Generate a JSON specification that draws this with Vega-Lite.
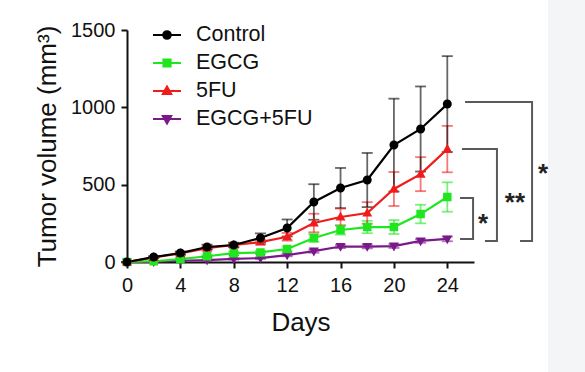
{
  "$schema": "https://vega.github.io/schema/vega-lite/v6.json",
  "width": 347,
  "height": 232,
  "autosize": {"type": "none"},
  "padding": {"left": 127, "top": 30, "right": 111, "bottom": 110},
  "background": "white",
  "config": {
    "view": {"stroke": null},
    "font": "Liberation Sans",
    "axis": {
      "domainColor": "#111111", "domainWidth": 2,
      "tickColor": "#111111", "tickWidth": 2, "tickSize": 6,
      "labelFont": "Liberation Sans", "labelFontSize": 20, "labelColor": "#111111", "labelPadding": 4,
      "titleFont": "Liberation Sans", "titleFontSize": 26, "titleFontWeight": "normal", "titleColor": "#111111",
      "grid": false
    },
    "legend": {
      "orient": "none", "legendX": 29, "legendY": -6, "title": null, "padding": 0,
      "labelFont": "Liberation Sans", "labelFontSize": 21.5, "labelColor": "#111111", "labelOffset": 18, "labelLimit": 300,
      "symbolSize": 400, "rowPadding": 6, "symbolStrokeWidth": 2, "symbolOpacity": 1
    }
  },
  "datasets": {
    "growth": [
      {"day": 0, "group": "EGCG+5FU", "vol": 0, "sd": 0},
      {"day": 2, "group": "EGCG+5FU", "vol": 2, "sd": 2},
      {"day": 4, "group": "EGCG+5FU", "vol": 8, "sd": 3},
      {"day": 6, "group": "EGCG+5FU", "vol": 12, "sd": 4},
      {"day": 8, "group": "EGCG+5FU", "vol": 20, "sd": 5},
      {"day": 10, "group": "EGCG+5FU", "vol": 25, "sd": 5},
      {"day": 12, "group": "EGCG+5FU", "vol": 45, "sd": 8},
      {"day": 14, "group": "EGCG+5FU", "vol": 70, "sd": 10},
      {"day": 16, "group": "EGCG+5FU", "vol": 100, "sd": 10},
      {"day": 18, "group": "EGCG+5FU", "vol": 100, "sd": 12},
      {"day": 20, "group": "EGCG+5FU", "vol": 103, "sd": 12},
      {"day": 22, "group": "EGCG+5FU", "vol": 136, "sd": 12},
      {"day": 24, "group": "EGCG+5FU", "vol": 149, "sd": 15},
      {"day": 0, "group": "EGCG", "vol": 0, "sd": 0},
      {"day": 2, "group": "EGCG", "vol": 5, "sd": 3},
      {"day": 4, "group": "EGCG", "vol": 18, "sd": 5},
      {"day": 6, "group": "EGCG", "vol": 37, "sd": 8},
      {"day": 8, "group": "EGCG", "vol": 57, "sd": 10},
      {"day": 10, "group": "EGCG", "vol": 62, "sd": 10},
      {"day": 12, "group": "EGCG", "vol": 84, "sd": 15},
      {"day": 14, "group": "EGCG", "vol": 155, "sd": 25},
      {"day": 16, "group": "EGCG", "vol": 207, "sd": 30},
      {"day": 18, "group": "EGCG", "vol": 226, "sd": 40},
      {"day": 20, "group": "EGCG", "vol": 226, "sd": 45},
      {"day": 22, "group": "EGCG", "vol": 310, "sd": 60},
      {"day": 24, "group": "EGCG", "vol": 420, "sd": 95},
      {"day": 0, "group": "5FU", "vol": 0, "sd": 0},
      {"day": 2, "group": "5FU", "vol": 30, "sd": 5},
      {"day": 4, "group": "5FU", "vol": 55, "sd": 8},
      {"day": 6, "group": "5FU", "vol": 90, "sd": 10},
      {"day": 8, "group": "5FU", "vol": 110, "sd": 12},
      {"day": 10, "group": "5FU", "vol": 129, "sd": 15},
      {"day": 12, "group": "5FU", "vol": 163, "sd": 25},
      {"day": 14, "group": "5FU", "vol": 252, "sd": 60},
      {"day": 16, "group": "5FU", "vol": 291, "sd": 55},
      {"day": 18, "group": "5FU", "vol": 317, "sd": 70},
      {"day": 20, "group": "5FU", "vol": 472, "sd": 110},
      {"day": 22, "group": "5FU", "vol": 568, "sd": 110},
      {"day": 24, "group": "5FU", "vol": 730, "sd": 150},
      {"day": 0, "group": "Control", "vol": 0, "sd": 0},
      {"day": 2, "group": "Control", "vol": 32, "sd": 5},
      {"day": 4, "group": "Control", "vol": 58, "sd": 10},
      {"day": 6, "group": "Control", "vol": 97, "sd": 15},
      {"day": 8, "group": "Control", "vol": 110, "sd": 15},
      {"day": 10, "group": "Control", "vol": 155, "sd": 30},
      {"day": 12, "group": "Control", "vol": 220, "sd": 55},
      {"day": 14, "group": "Control", "vol": 388, "sd": 115},
      {"day": 16, "group": "Control", "vol": 478, "sd": 130},
      {"day": 18, "group": "Control", "vol": 530, "sd": 175},
      {"day": 20, "group": "Control", "vol": 756, "sd": 300},
      {"day": 22, "group": "Control", "vol": 860, "sd": 275},
      {"day": 24, "group": "Control", "vol": 1021, "sd": 310}
    ],
    "brackets": [
      {"b": "b1", "o": 1, "x": 25.33, "y": 1034},
      {"b": "b1", "o": 2, "x": 30.35, "y": 1034},
      {"b": "b1", "o": 3, "x": 30.35, "y": 136},
      {"b": "b1", "o": 4, "x": 29.45, "y": 136},
      {"b": "b2", "o": 1, "x": 25.1, "y": 730},
      {"b": "b2", "o": 2, "x": 27.72, "y": 730},
      {"b": "b2", "o": 3, "x": 27.72, "y": 136},
      {"b": "b2", "o": 4, "x": 26.82, "y": 136},
      {"b": "b3", "o": 1, "x": 24.95, "y": 414},
      {"b": "b3", "o": 2, "x": 25.93, "y": 414},
      {"b": "b3", "o": 3, "x": 25.93, "y": 149},
      {"b": "b3", "o": 4, "x": 24.95, "y": 149}
    ],
    "stars": [
      {"x": 31.17, "y": 608, "t": "*"},
      {"x": 29.07, "y": 420, "t": "**"},
      {"x": 26.67, "y": 284, "t": "*"}
    ],
    "panel": [
      {"x0": 31.55, "x1": 34.6, "y0": 1720, "y1": -740}
    ]
  },
  "layer": [
    {
      "data": {"name": "panel"},
      "mark": {"type": "rect", "clip": false, "color": "#f4f5f7"},
      "encoding": {
        "x": {"field": "x0", "type": "quantitative", "scale": {"domain": [0, 26], "nice": false}, "title": "Days"},
        "x2": {"field": "x1"},
        "y": {"field": "y0", "type": "quantitative", "scale": {"domain": [0, 1500], "nice": false}, "title": "Tumor volume (mm³)"},
        "y2": {"field": "y1"}
      }
    },
    {
      "data": {"name": "growth"},
      "mark": {"type": "errorbar", "clip": false, "thickness": 1.8, "rule": {"opacity": 0.6, "strokeWidth": 1.8}, "ticks": {"opacity": 0.6, "size": 11, "thickness": 1.8}},
      "encoding": {
        "x": {"field": "day", "type": "quantitative", "scale": {"domain": [0, 26], "nice": false}, "title": "Days"},
        "y": {"field": "vol", "type": "quantitative", "scale": {"domain": [0, 1500], "nice": false}, "title": "Tumor volume (mm³)"},
        "yError": {"field": "sd"},
        "color": {"field": "group", "type": "nominal", "scale": {"domain": ["Control", "EGCG", "5FU", "EGCG+5FU"], "range": ["#000000", "#1fe61f", "#f01c1c", "#7a1a8a"]}}
      }
    },
    {
      "data": {"name": "growth"},
      "mark": {"type": "line", "clip": false, "strokeWidth": 2.2},
      "encoding": {
        "x": {"field": "day", "type": "quantitative", "scale": {"domain": [0, 26], "nice": false}, "title": "Days"},
        "y": {"field": "vol", "type": "quantitative", "scale": {"domain": [0, 1500], "nice": false}, "title": "Tumor volume (mm³)"},
        "color": {"field": "group", "type": "nominal", "scale": {"domain": ["Control", "EGCG", "5FU", "EGCG+5FU"], "range": ["#000000", "#1fe61f", "#f01c1c", "#7a1a8a"]}}
      }
    },
    {
      "data": {"name": "growth"},
      "mark": {"type": "point", "clip": false, "filled": true, "opacity": 1, "size": 560},
      "encoding": {
        "x": {"field": "day", "type": "quantitative", "scale": {"domain": [0, 26], "nice": false}, "title": "Days",
              "axis": {"values": [0, 4, 8, 12, 16, 20, 24], "format": "d", "labelFlush": false, "labelPadding": 7, "titlePadding": 14}},
        "y": {"field": "vol", "type": "quantitative", "scale": {"domain": [0, 1500], "nice": false}, "title": "Tumor volume (mm³)",
              "axis": {"values": [0, 500, 1000, 1500], "format": "d", "labelPadding": 6, "titlePadding": 10}},
        "color": {"field": "group", "type": "nominal", "scale": {"domain": ["Control", "EGCG", "5FU", "EGCG+5FU"], "range": ["#000000", "#1fe61f", "#f01c1c", "#7a1a8a"]}},
        "shape": {"field": "group", "type": "nominal",
                  "scale": {"domain": ["Control", "EGCG", "5FU", "EGCG+5FU"],
                            "range": ["M-1.4,0H1.4M0.38,0C0.38,0.21,0.21,0.38,0,0.38C-0.21,0.38,-0.38,0.21,-0.38,0C-0.38,-0.21,-0.21,-0.38,0,-0.38C0.21,-0.38,0.38,-0.21,0.38,0Z",
                                      "M-1.4,0H1.4M-0.36,-0.36H0.36V0.36H-0.36Z",
                                      "M-1.4,0H1.4M0,-0.45L0.42,0.3H-0.42Z",
                                      "M-1.4,0H1.4M0,0.45L0.42,-0.3H-0.42Z"]}}
      }
    },
    {
      "data": {"values": []},
      "mark": {"type": "point", "clip": false, "filled": true, "opacity": 1},
      "encoding": {
        "x": {"field": "day", "type": "quantitative", "scale": {"domain": [0, 26], "nice": false}, "title": "Days"},
        "y": {"field": "vol", "type": "quantitative", "scale": {"domain": [0, 1500], "nice": false}, "title": "Tumor volume (mm³)"},
        "color": {"field": "group", "type": "nominal", "scale": {"domain": ["Control", "EGCG", "5FU", "EGCG+5FU"], "range": ["#000000", "#1fe61f", "#f01c1c", "#7a1a8a"]}},
        "stroke": {"field": "group", "type": "nominal", "scale": {"domain": ["Control", "EGCG", "5FU", "EGCG+5FU"], "range": ["#000000", "#1fe61f", "#f01c1c", "#7a1a8a"]}},
        "shape": {"field": "group", "type": "nominal"}
      }
    },
    {
      "data": {"name": "brackets"},
      "mark": {"type": "line", "clip": false, "color": "#5a5a5a", "strokeWidth": 2},
      "encoding": {
        "x": {"field": "x", "type": "quantitative", "scale": {"domain": [0, 26], "nice": false}, "title": "Days"},
        "y": {"field": "y", "type": "quantitative", "scale": {"domain": [0, 1500], "nice": false}, "title": "Tumor volume (mm³)"},
        "detail": {"field": "b"},
        "order": {"field": "o"}
      }
    },
    {
      "data": {"name": "stars"},
      "mark": {"type": "text", "clip": false, "font": "Liberation Sans", "fontSize": 26, "fontWeight": "bold", "color": "#222222", "align": "center", "baseline": "middle", "dy": 6},
      "encoding": {
        "x": {"field": "x", "type": "quantitative", "scale": {"domain": [0, 26], "nice": false}, "title": "Days"},
        "y": {"field": "y", "type": "quantitative", "scale": {"domain": [0, 1500], "nice": false}, "title": "Tumor volume (mm³)"},
        "text": {"field": "t"}
      }
    }
  ]
}
